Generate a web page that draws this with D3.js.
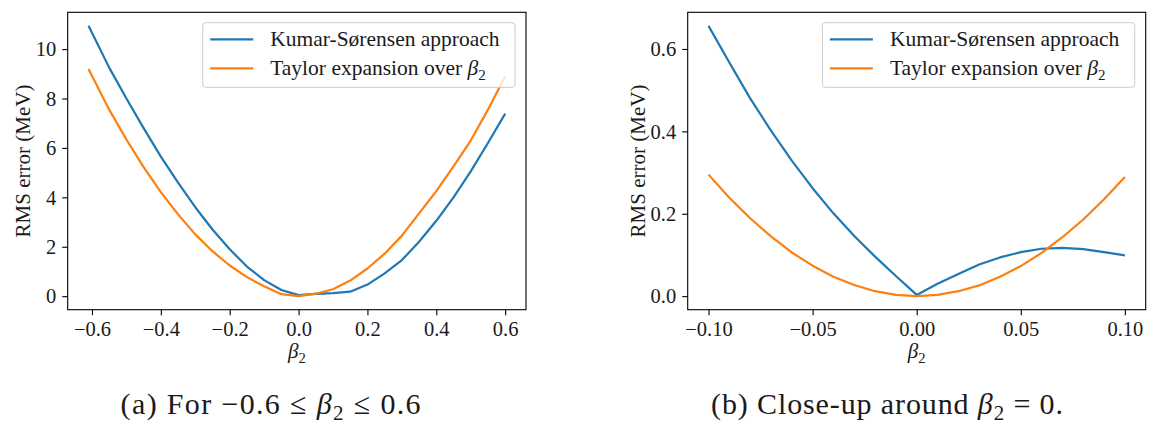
<!DOCTYPE html>
<html>
<head>
<meta charset="utf-8">
<script src="https://cdn.jsdelivr.net/npm/d3@7"></script>
<style>
  body { margin: 0; background: #fff; }
  svg { display: block; font-family: "Liberation Serif", "Times New Roman", serif; }
  .tick text { fill: #1a1a1a; }
</style>
</head>
<body>
<svg id="chart" width="1149" height="424"></svg>
<script>
// =====================
// Data
// =====================
// (a) wide range
const betaWide   = [-0.61, -0.55, -0.50, -0.45, -0.40, -0.35, -0.30, -0.25, -0.20, -0.15, -0.10, -0.05,
                    0.00, 0.05, 0.10, 0.15, 0.20, 0.25, 0.30, 0.35, 0.40, 0.45, 0.50, 0.55, 0.60];
const kumarWide  = [10.95, 9.25, 8.0, 6.8, 5.65, 4.6, 3.6, 2.7, 1.9, 1.2, 0.65, 0.25,
                    0.04, 0.09, 0.12, 0.18, 0.47, 0.92, 1.46, 2.2, 3.05, 4.0, 5.05, 6.2, 7.39];
const taylorWide = [9.19, 7.55, 6.34, 5.22, 4.21, 3.31, 2.5, 1.82, 1.24, 0.77, 0.4, 0.08,
                    0.0, 0.1, 0.28, 0.63, 1.12, 1.72, 2.45, 3.35, 4.25, 5.25, 6.3, 7.55, 8.9];

// (b) close-up around 0
const betaZoom   = [-0.10, -0.09, -0.08, -0.07, -0.06, -0.05, -0.04, -0.03, -0.02, -0.01, 0.00,
                    0.01, 0.02, 0.03, 0.04, 0.05, 0.06, 0.07, 0.08, 0.09, 0.10];
const kumarZoom  = [0.656, 0.567, 0.480, 0.402, 0.329, 0.262, 0.201, 0.146, 0.096, 0.049, 0.003,
                    0.030, 0.054, 0.077, 0.094, 0.107, 0.115, 0.117, 0.114, 0.107, 0.099];
const taylorZoom = [0.295, 0.239, 0.189, 0.145, 0.106, 0.074, 0.047, 0.027, 0.012, 0.003, 0.000,
                    0.003, 0.012, 0.026, 0.047, 0.073, 0.105, 0.143, 0.186, 0.235, 0.289];

const seriesNames = ["Kumar-Sørensen approach", "Taylor expansion over "];
const colors = ["#1f77b4", "#ff7f0e"];

const xTicksWide = [-0.6, -0.4, -0.2, 0.0, 0.2, 0.4, 0.6];
const yTicksWide = [0, 2, 4, 6, 8, 10];
const xTicksZoom = [-0.10, -0.05, 0.00, 0.05, 0.10];
const yTicksZoom = [0.0, 0.2, 0.4, 0.6];

// =====================
// Panel layout
// =====================
const panels = [
  { x0: 67.7, x1: 526, y0: 12.3, y1: 309.7,
    xDomain: [-0.6705, 0.6605], yDomain: [-0.548, 11.49],
    xTicks: xTicksWide, yTicks: yTicksWide, xFmt: d3.format(".1f"), yFmt: d3.format("d"),
    x: betaWide, ys: [kumarWide, taylorWide], yLabelX: 30,
    caption: "a", capX: 270.6, capLen: 300 },
  { x0: 687.7, x1: 1145.7, y0: 12.3, y1: 309.7,
    xDomain: [-0.11, 0.11], yDomain: [-0.0329, 0.689],
    xTicks: xTicksZoom, yTicks: yTicksZoom, xFmt: d3.format(".2f"), yFmt: d3.format(".1f"),
    x: betaZoom, ys: [kumarZoom, taylorZoom], yLabelX: 645,
    caption: "b", capX: 887, capLen: 352 }
];

const svg = d3.select("#chart");
svg.append("rect").attr("width", 1149).attr("height", 424).attr("fill", "#fff");

// beta_2 with an italic beta and a subscript 2
function addBeta(sel, size) {
  sel.append("tspan").attr("font-style", "italic").text("β");
  sel.append("tspan").attr("font-size", size * 0.7).attr("dy", size * 0.22).text("2");
}

panels.forEach(p => {
  const xScale = d3.scaleLinear(p.xDomain, [p.x0, p.x1]);
  const yScale = d3.scaleLinear(p.yDomain, [p.y1, p.y0]);
  const g = svg.append("g");

  // --- axes
  const xAxis = g.append("g")
    .attr("transform", `translate(0,${p.y1})`)
    .call(d3.axisBottom(xScale).tickValues(p.xTicks).tickFormat(p.xFmt).tickSize(5.5).tickPadding(6.5));
  const yAxis = g.append("g")
    .attr("transform", `translate(${p.x0},0)`)
    .call(d3.axisLeft(yScale).tickValues(p.yTicks).tickFormat(p.yFmt).tickSize(5.5).tickPadding(6));
  [xAxis, yAxis].forEach(a => {
    a.attr("font-family", null).attr("font-size", 20.5);
    a.select(".domain").remove();
    a.selectAll(".tick line").attr("stroke", "#000").attr("stroke-width", 1.1);
  });
  xAxis.selectAll(".tick text").attr("dy", "0.7em");
  yAxis.selectAll(".tick text").attr("dy", "0.33em");

  // --- lines
  const line = d3.line().x((d, i) => xScale(p.x[i])).y(d => yScale(d));
  p.ys.forEach((vals, k) => {
    g.append("path")
      .attr("d", line(vals))
      .attr("fill", "none")
      .attr("stroke", colors[k])
      .attr("stroke-width", 2.2)
      .attr("stroke-linejoin", "round");
  });

  // --- frame
  g.append("rect")
    .attr("x", p.x0).attr("y", p.y0)
    .attr("width", p.x1 - p.x0).attr("height", p.y1 - p.y0)
    .attr("fill", "none").attr("stroke", "#000").attr("stroke-width", 1.1);

  // --- axis labels
  const xl = g.append("text")
    .attr("x", (p.x0 + p.x1) / 2).attr("y", 358)
    .attr("text-anchor", "middle").attr("font-size", 21).attr("fill", "#1a1a1a");
  addBeta(xl, 21);

  g.append("text")
    .attr("transform", `translate(${p.yLabelX},${(p.y0 + p.y1) / 2}) rotate(-90)`)
    .attr("text-anchor", "middle").attr("font-size", 21).attr("fill", "#1a1a1a")
    .text("RMS error (MeV)");

  // --- legend
  const lw = 312.3, lh = 64.6;
  const lx = p.x1 - 11 - lw, ly = p.y0 + 10.4;
  const leg = g.append("g").attr("transform", `translate(${lx},${ly})`);
  leg.append("rect")
    .attr("width", lw).attr("height", lh).attr("rx", 3)
    .attr("fill", "rgba(255,255,255,0.8)").attr("stroke", "#cccccc").attr("stroke-width", 1);
  seriesNames.forEach((name, k) => {
    const cy = 16.6 + k * 29;
    leg.append("line")
      .attr("x1", 7.5).attr("x2", 50.5).attr("y1", cy).attr("y2", cy)
      .attr("stroke", colors[k]).attr("stroke-width", 2.2);
    const t = leg.append("text")
      .attr("x", 67.5).attr("y", cy + 7)
      .attr("font-size", 21.5).attr("fill", "#1a1a1a")
      .text(name);
    if (k === 1) addBeta(t, 21.5);
  });

  // --- caption
  const cap = svg.append("text")
    .attr("x", p.capX).attr("y", 413.5)
    .attr("text-anchor", "middle").attr("font-size", 30).attr("fill", "#1a1a1a")
    .attr("textLength", p.capLen).attr("lengthAdjust", "spacing");
  if (p.caption === "a") {
    cap.append("tspan").text("(a) For −0.6 ≤ ");
    addBeta(cap, 30);
    cap.append("tspan").attr("dy", -30 * 0.22).text(" ≤ 0.6");
  } else {
    cap.append("tspan").text("(b) Close-up around ");
    addBeta(cap, 30);
    cap.append("tspan").attr("dy", -30 * 0.22).text(" = 0.");
  }
});
</script>
</body>
</html>
